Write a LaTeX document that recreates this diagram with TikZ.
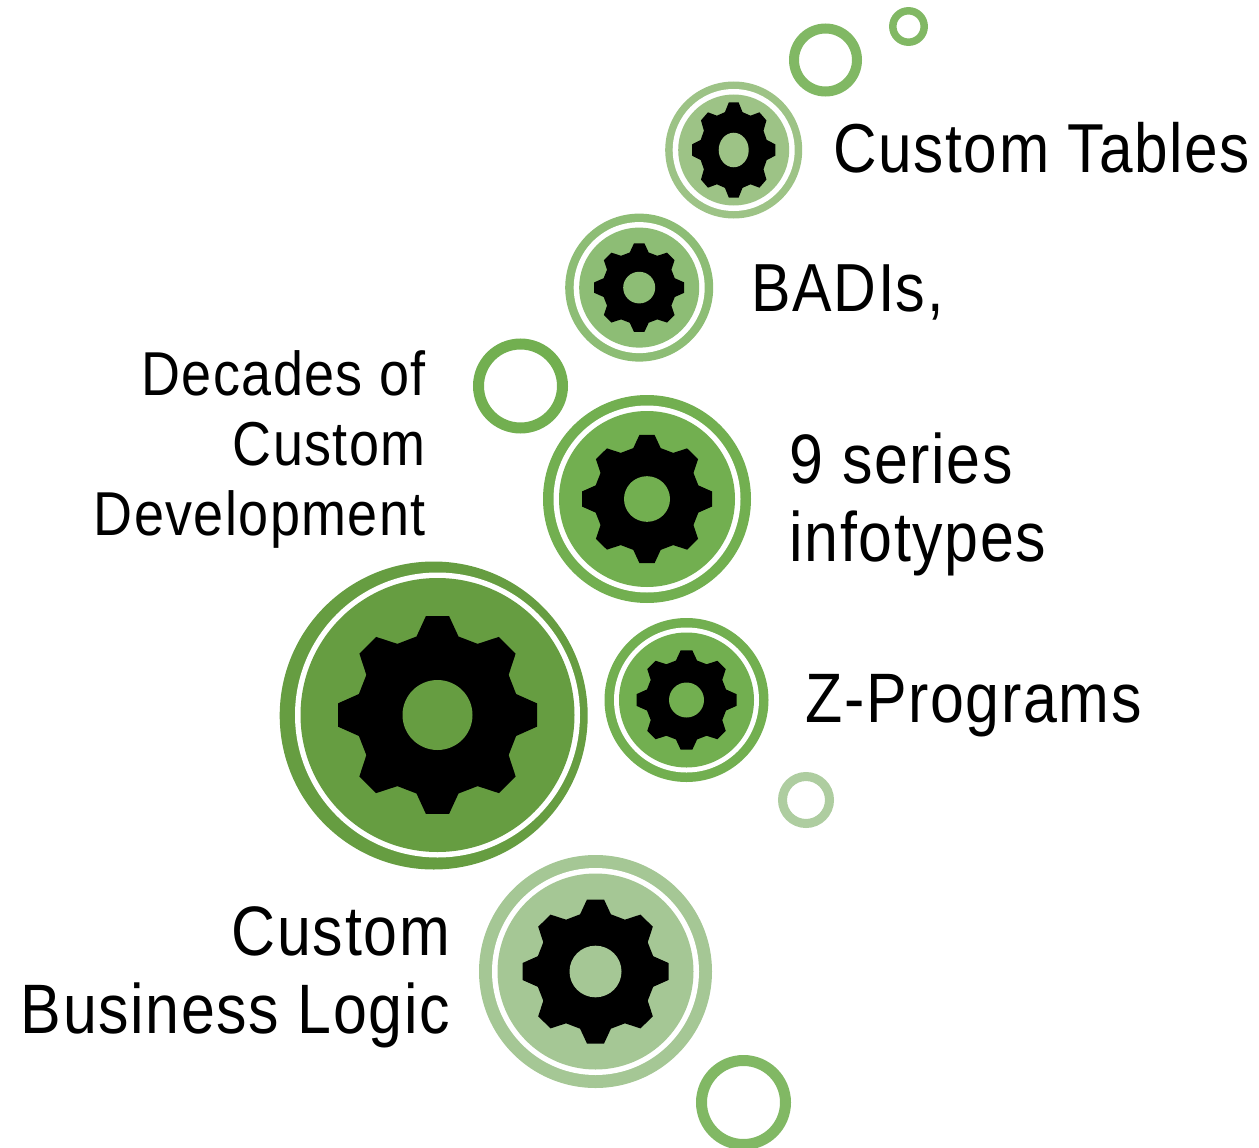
\documentclass[tikz,border=0pt]{standalone}
\usepackage{fontspec}
\setmainfont[FakeStretch=0.87,LetterSpace=2.3]{Liberation Sans}
\definecolor{gdark}{HTML}{669D41}
\definecolor{gmid}{HTML}{72AF50}
\definecolor{gtop}{HTML}{9DC386}
\definecolor{gbadi}{HTML}{8DBD75}
\definecolor{glight}{HTML}{A5C795}
\definecolor{gpale}{HTML}{AECDA0}
\definecolor{gring}{HTML}{81B864}
\tikzset{
  lbl/.style={inner sep=0pt,font=\fontsize{70}{78}\selectfont,text=black},
  lblsmall/.style={inner sep=0pt,font=\fontsize{62}{70}\selectfont,text=black}
}
% cx cy outer-r white-r disc-r gear-rx gear-ry hole-rx colour
\newcommand\gearbadge[9]{%
  \begin{scope}[shift={(#1,#2)}]
    \fill[#9] (0,0) circle[radius=#3];
    \fill[white] (0,0) circle[radius=#4];
    \fill[#9] (0,0) circle[radius=#5];
    \begin{scope}[x=#6pt,y=#7pt]
      \fill[black] (0.117,0.993)--(0.211,0.789)--(0.403,0.715)--(0.617,0.785)--(0.785,0.617)--(0.715,0.403)--(0.79,0.211)--(1,0.117)
      --(1,-0.117)--(0.79,-0.211)--(0.715,-0.403)--(0.785,-0.617)--(0.617,-0.785)--(0.403,-0.715)--(0.211,-0.789)--(0.117,-0.993)
      --(-0.117,-0.993)--(-0.211,-0.789)--(-0.403,-0.715)--(-0.617,-0.785)--(-0.785,-0.617)--(-0.715,-0.403)--(-0.79,-0.211)--(-1,-0.117)
      --(-1,0.117)--(-0.79,0.211)--(-0.715,0.403)--(-0.785,0.617)--(-0.617,0.785)--(-0.403,0.715)--(-0.211,0.789)--(-0.117,0.993)--cycle;
    \end{scope}
    \fill[#9] (0,0) ellipse[x radius=#8,y radius=#8*#7/#6];
  \end{scope}}
\begin{document}
\begin{tikzpicture}[x=1pt,y=-1pt]
\useasboundingbox (0,0) rectangle (1259,1148);
\clip (0,0) rectangle (1259,1148);
% free rings
\draw[gring,line width=10pt] (825.5,60) circle[radius=31.5];
\draw[gring,line width=7.5pt] (908.5,26.5) circle[radius=15.7];
\draw[gmid,line width=11pt] (520.5,386) circle[radius=42];
\draw[gpale,line width=9pt] (806,800) circle[radius=23.5];
\draw[gring,line width=11pt] (743.5,1102.5) circle[radius=42];
% badges
\gearbadge{733.7}{150}{68.5}{61}{55.5}{41.7}{48}{15}{gtop}
\gearbadge{639.2}{287.6}{74}{65.5}{60}{45}{44.5}{16}{gbadi}
\gearbadge{647}{499}{104}{93.5}{88}{65}{64.5}{23}{gmid}
\gearbadge{686.5}{700}{82}{72.5}{67.5}{50}{50}{17.5}{gmid}
\gearbadge{595.5}{971.5}{116.5}{103.5}{98}{73}{72.5}{26}{glight}
\fill[gdark] (433.7,715.5) circle[radius=154];
\gearbadge{437.5}{715}{137}{142.5}{137}{99.5}{99.5}{35}{gdark}
% labels
\node[lbl,anchor=base west,font=\fontsize{69.3}{78}\selectfont] (tables) at (833.5,172) {Custom Tables};
\node[lbl,anchor=base west,font=\fontsize{68}{78}\selectfont] (badis) at (751.5,311) {BADIs,};
\node[lbl,anchor=base west,align=left] (series) at (789.5,561.5) {9 series\\infotypes};
\node[lbl,anchor=base west] (zprog) at (805.5,722.5) {Z-Programs};
\node[lblsmall,anchor=base east,align=right] (decades) at (426,535) {Decades of\\Custom\\Development};
\node[lbl,anchor=base east,align=right] (logic) at (450,1033) {Custom\\Business Logic};
\end{tikzpicture}
\end{document}
